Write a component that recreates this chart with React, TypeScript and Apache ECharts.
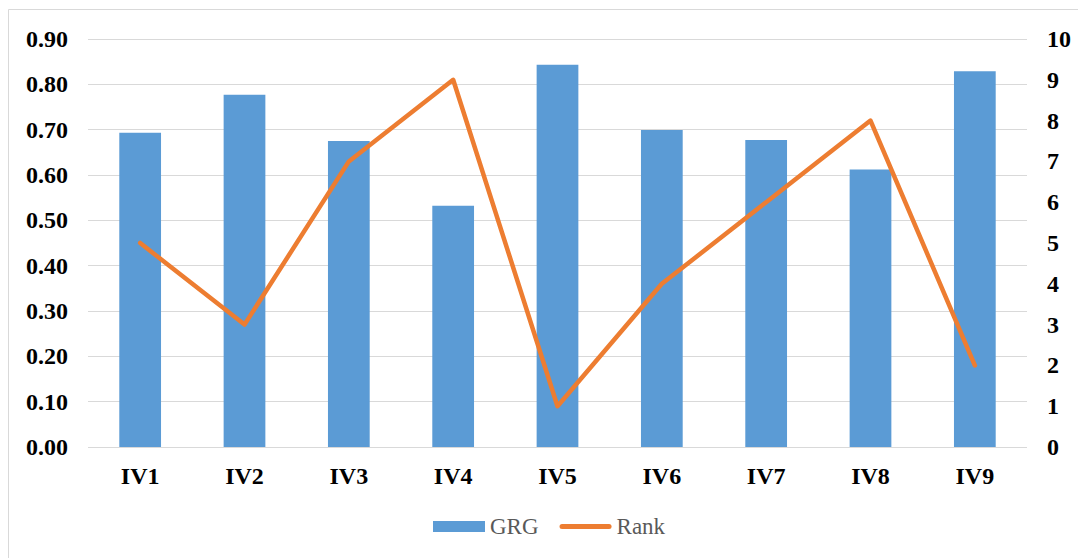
import React, { useEffect, useRef } from "react";
import * as echarts from "echarts";

const categories = ["IV1", "IV2", "IV3", "IV4", "IV5", "IV6", "IV7", "IV8", "IV9"];
const grgValues = [0.693, 0.777, 0.675, 0.532, 0.843, 0.699, 0.677, 0.612, 0.829];
const rankValues = [5, 3, 7, 9, 1, 4, 6, 8, 2];

const FONT = "'Liberation Serif', 'Times New Roman', serif";
const LINE_ICON = "path://M2.5,0H49.5A2.5,2.5 0 0 1 49.5,5H2.5A2.5,2.5 0 0 1 2.5,0Z";

export default function App() {
  const ref = useRef<HTMLDivElement>(null);
  useEffect(() => {
    if (!ref.current) return;
    const chart = echarts.init(ref.current, undefined, { renderer: "svg" });
    const labelStyle = {
      fontFamily: FONT,
      fontSize: 24,
      fontWeight: "bold",
      color: "#000000",
    };
    chart.setOption({
      animation: false,
      backgroundColor: "#ffffff",
      graphic: [
        {
          type: "rect",
          shape: { x: 8.5, y: 9.5, width: 1080, height: 560 },
          style: { fill: "none", stroke: "#d9d9d9", lineWidth: 1 },
          silent: true,
        },
      ],
      grid: { left: 88, right: 51, top: 39, bottom: 111 },
      legend: {
        bottom: 15,
        left: 428,
        itemWidth: 52,
        itemHeight: 11,
        itemGap: 21,
        textStyle: { fontFamily: FONT, fontSize: 23, color: "#595959" },
        data: [
          { name: "GRG", icon: "rect" },
          { name: "Rank", icon: LINE_ICON },
        ],
      },
      xAxis: {
        type: "category",
        data: categories,
        axisLine: { show: false },
        axisTick: { show: false },
        axisLabel: { margin: 17, ...labelStyle },
      },
      yAxis: [
        {
          type: "value",
          min: 0,
          max: 0.9,
          interval: 0.1,
          axisLine: { show: false },
          axisTick: { show: false },
          splitLine: { lineStyle: { color: "#d9d9d9", width: 1 } },
          axisLabel: {
            margin: 20,
            ...labelStyle,
            formatter: (v: number) => v.toFixed(2),
          },
        },
        {
          type: "value",
          min: 0,
          max: 10,
          interval: 1,
          axisLine: { show: false },
          axisTick: { show: false },
          splitLine: { show: false },
          axisLabel: { margin: 20, ...labelStyle },
        },
      ],
      series: [
        {
          name: "GRG",
          type: "bar",
          data: grgValues,
          yAxisIndex: 0,
          barWidth: "40%",
          itemStyle: { color: "#5b9bd5" },
        },
        {
          name: "Rank",
          type: "line",
          data: rankValues,
          yAxisIndex: 1,
          symbol: "none",
          lineStyle: { color: "#ed7d31", width: 4.5, cap: "round", join: "round" },
          itemStyle: { color: "#ed7d31" },
        },
      ],
    });
    return () => chart.dispose();
  }, []);
  return (
    <div
      ref={ref}
      style={{ position: "fixed", left: 0, top: 0, width: 1078, height: 558 }}
    />
  );
}
